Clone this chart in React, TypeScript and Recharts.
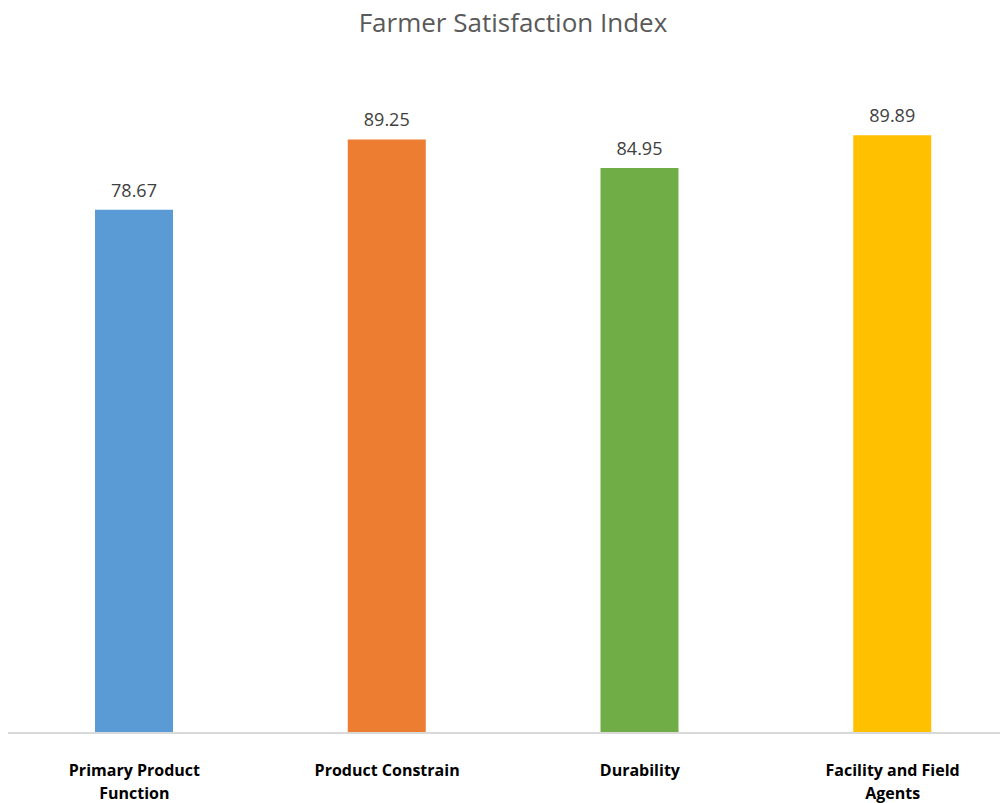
import { BarChart, Bar, XAxis, YAxis, Cell, LabelList, Text } from 'recharts'

const categories = ['Primary Product Function', 'Product Constrain', 'Durability', 'Facility and Field Agents']
const scores = [78.67, 89.25, 84.95, 89.89]
const barColors = ['#5B9BD5', '#ED7D31', '#70AD47', '#FFC000']

const data = categories.map((name, i) => ({ name, score: scores[i] }))

const FONT = '"Open Sans", "Noto Sans", sans-serif'

function CategoryTick(props: any) {
  const { x, y, payload } = props
  return (
    <Text
      x={x}
      y={y + 24}
      width={185}
      textAnchor="middle"
      verticalAnchor="start"
      lineHeight={23}
      style={{ fontFamily: FONT, fontSize: 16, fontWeight: 700, fill: '#000000' }}
    >
      {payload.value}
    </Text>
  )
}

export default function App() {
  return (
    <div style={{ position: 'relative', width: 1000, height: 795, background: '#ffffff' }}>
      {/* plot is a bit wider than the page, so clip it */}
      <div style={{ width: 1000, height: 795, overflow: 'hidden' }}>
        <BarChart
          width={1011}
          height={795}
          data={data}
          margin={{ top: 60, right: 0, bottom: 0, left: 0 }}
        >
          <XAxis
            dataKey="name"
            tick={<CategoryTick />}
            tickLine={false}
            axisLine={{ stroke: '#d9d9d9', strokeWidth: 2 }}
            height={70}
            interval={0}
          />
          <YAxis hide domain={[0, 100]} />
          <Bar dataKey="score" barSize={78} isAnimationActive={false}>
            {data.map((d, i) => (
              <Cell key={d.name} fill={barColors[i]} />
            ))}
            <LabelList
              dataKey="score"
              position="top"
              offset={13}
              formatter={(v: any) => Number(v).toFixed(2)}
              style={{ fontFamily: FONT, fontSize: 18, fill: '#404040' }}
            />
          </Bar>
        </BarChart>
      </div>
      <div
        style={{
          position: 'absolute',
          top: -4,
          left: 10,
          width: 990,
          textAlign: 'center',
          fontFamily: FONT,
          fontSize: 26,
          color: '#595959',
          lineHeight: '36px',
          whiteSpace: 'nowrap',
        }}
      >
        Farmer Satisfaction Index
      </div>
    </div>
  )
}
